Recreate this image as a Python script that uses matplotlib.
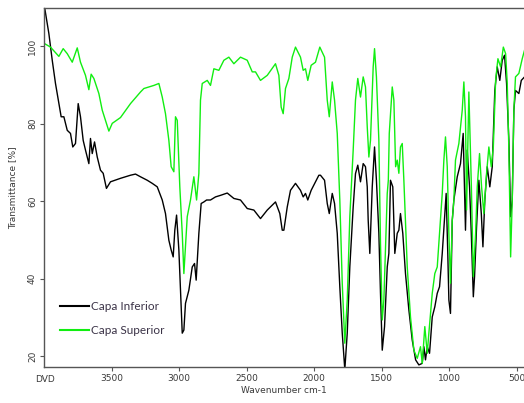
import matplotlib
matplotlib.use("Agg")
import matplotlib.pyplot as plt

# Capa Superior (green) - wavenumber cm-1 / transmittance %
sup_wn = [4000, 3996, 3952, 3890, 3858, 3828, 3791, 3754, 3730, 3693, 3668, 3651, 3631,
          3594, 3569, 3520, 3495, 3434, 3360, 3286, 3261, 3187, 3150, 3125, 3101, 3076,
          3059, 3039, 3027, 3014, 2995, 2977, 2965, 2940, 2916, 2891, 2871, 2854, 2842,
          2829, 2792, 2768, 2743, 2706, 2669, 2632, 2595, 2546, 2496, 2459, 2435, 2398,
          2348, 2287, 2262, 2245, 2230, 2213, 2188, 2163, 2139, 2102, 2082, 2065, 2048,
          2023, 1991, 1959, 1924, 1904, 1889, 1867, 1850, 1830, 1811, 1793, 1774, 1756,
          1737, 1712, 1695, 1678, 1658, 1638, 1621, 1608, 1596, 1584, 1564, 1554, 1540,
          1522, 1510, 1497, 1485, 1460, 1452, 1445, 1423, 1411, 1398, 1386, 1374, 1362,
          1349, 1337, 1312, 1288, 1263, 1238, 1214, 1201, 1182, 1164, 1152, 1127, 1108,
          1090, 1073, 1053, 1041, 1029, 1016, 1004, 992, 979, 967, 955, 930, 905, 893,
          881, 873, 856, 838, 823, 806, 794, 777, 762, 745, 725, 708, 690, 675, 658, 641,
          621, 601, 584, 572, 560, 547, 535, 523, 511, 486, 461, 444]
sup_t = [100.8, 100.7, 99.8, 97.4, 99.4, 98.1, 95.9, 99.6, 95.9, 92.5, 88.8, 92.8, 91.7,
         87.8, 83.5, 78.1, 80.1, 81.6, 85.2, 88.2, 89.1, 89.9, 90.4, 86.9, 82.6, 75.7,
         68.9, 67.6, 81.8, 80.9, 63.7, 51.7, 41.3, 56.0, 60.3, 66.3, 60.3, 67.2, 86.1,
         90.4, 91.2, 89.9, 94.2, 93.8, 96.4, 97.2, 95.5, 97.2, 96.4, 93.4, 93.4, 91.2,
         92.5, 95.5, 92.5, 84.3, 82.6, 89.1, 91.7, 97.2, 99.8, 97.2, 93.8, 94.2, 91.2,
         95.1, 95.9, 99.8, 97.2, 86.1, 81.8, 90.8, 86.1, 77.5, 60.3, 38.8, 23.3, 34.5,
         56.0, 73.2, 86.1, 91.7, 86.9, 92.1, 89.5, 79.2, 71.4, 75.7, 94.7, 99.4, 92.1,
         75.7, 49.1, 29.3, 34.5, 62.0, 65.4, 77.5, 89.5, 86.1, 68.9, 70.6, 67.2, 74.0,
         74.9, 65.4, 43.0, 30.1, 21.5, 19.4, 22.4, 18.1, 27.6, 20.7, 25.9, 36.2, 41.3,
         43.0, 51.7, 62.0, 70.6, 76.6, 68.9, 51.7, 38.8, 55.0, 60.3, 70.6, 74.9, 83.5, 90.8,
         81.8, 57.7, 88.2, 64.6, 40.5, 51.7, 63.7, 72.3, 63.7, 56.8, 67.2, 74.0, 68.9, 74.0,
         91.2, 96.8, 94.7, 99.8, 98.1, 90.4, 73.2, 45.6, 60.3, 83.5, 92.1, 93.0, 96.8, 99.0]

# Capa Inferior (black)
inf_wn = [4000, 3964, 3939, 3915, 3890, 3873, 3853, 3828, 3804, 3787, 3767, 3747, 3730,
          3710, 3693, 3668, 3656, 3643, 3626, 3606, 3582, 3562, 3538, 3508, 3434, 3360,
          3323, 3286, 3236, 3199, 3162, 3125, 3101, 3076, 3059, 3044, 3032, 3019, 3002,
          2990, 2977, 2965, 2953, 2928, 2903, 2886, 2874, 2854, 2837, 2817, 2797, 2768,
          2731, 2694, 2644, 2595, 2546, 2496, 2447, 2398, 2348, 2287, 2255, 2237, 2225,
          2200, 2176, 2139, 2102, 2082, 2065, 2048, 2023, 1991, 1966, 1954, 1924, 1904,
          1889, 1867, 1850, 1830, 1811, 1793, 1774, 1756, 1737, 1712, 1695, 1678, 1658,
          1638, 1621, 1608, 1601, 1589, 1571, 1554, 1540, 1522, 1510, 1497, 1480, 1460,
          1448, 1436, 1419, 1404, 1386, 1374, 1362, 1345, 1325, 1300, 1275, 1250, 1226,
          1201, 1189, 1177, 1164, 1147, 1127, 1108, 1090, 1073, 1053, 1034, 1024, 1012,
          1004, 992, 979, 967, 942, 918, 898, 881, 868, 851, 838, 823, 814, 799, 782, 764,
          752, 738, 720, 701, 683, 664, 646, 627, 609, 592, 577, 560, 547, 535, 523, 511,
          486, 468, 444]
inf_t = [111.0, 103.3, 96.4, 90.4, 85.2, 81.8, 81.8, 78.3, 77.5, 74.0, 74.9, 85.2, 81.8,
         75.7, 73.2, 69.7, 76.2, 72.3, 75.3, 71.4, 68.0, 67.2, 63.3, 65.0, 65.9, 66.7,
         67.0, 66.3, 65.4, 64.6, 63.7, 60.3, 56.8, 49.9, 47.4, 45.6, 52.5, 56.4, 47.4,
         37.0, 25.9, 26.7, 33.6, 37.0, 43.0, 43.9, 39.6, 51.7, 59.4, 59.8, 60.3, 60.3,
         61.1, 61.5, 62.1, 60.7, 60.3, 58.1, 57.7, 55.5, 57.7, 59.8, 56.8, 52.5, 52.5,
         58.5, 62.8, 64.6, 62.8, 61.1, 62.0, 60.3, 62.8, 65.0, 66.7, 66.7, 65.4, 59.4,
         56.8, 62.0, 59.4, 51.7, 37.9, 25.9, 16.5, 25.9, 43.0, 58.5, 67.1, 69.3, 65.0,
         69.7, 68.9, 63.7, 55.1, 46.5, 63.7, 74.0, 65.4, 51.7, 36.2, 21.5, 27.6, 43.0,
         46.5, 65.4, 63.7, 46.5, 51.7, 52.5, 56.8, 51.7, 41.3, 31.9, 24.1, 19.0, 17.7,
         18.1, 22.4, 19.0, 22.4, 20.7, 30.1, 32.7, 36.2, 37.9, 46.5, 56.8, 62.0, 46.5,
         34.5, 31.0, 55.0, 60.3, 66.3, 69.7, 77.5, 52.5, 73.2, 63.7, 51.7, 35.3, 40.5, 53.4, 65.4, 56.8,
         48.2, 60.3, 68.9, 63.7, 68.9, 88.6, 94.7, 91.2, 96.4, 97.7, 90.4, 75.7, 56.0, 60.3, 83.5, 88.6,
         87.8, 91.2, 92.1]

x_ticks = [3500, 3000, 2500, 2000, 1500, 1000, 500]
y_ticks = [20, 40, 60, 80, 100]

txt = '#3a3a3a'
spine = '#555555'

fig = plt.figure(figsize=(5.24, 4.03), dpi=100)
ax = fig.add_axes([44 / 524, 36 / 403, 480 / 524, 359 / 403])

ax.plot(inf_wn, inf_t, color='black', lw=1.0, label='Capa Inferior')
ax.plot(sup_wn, sup_t, color='#11ee11', lw=1.0, label='Capa Superior')

ax.set_xlim(4000, 448)
ax.set_ylim(17.16, 109.9)
ax.set_xticks(x_ticks)
ax.set_yticks(y_ticks)
ax.tick_params(direction='out', length=3, width=0.8, colors=spine, labelcolor=txt,
               labelsize=6.5, pad=2)
for lab in ax.get_yticklabels():
    lab.set_rotation(90)
    lab.set_va('center')
ax.spines['right'].set_visible(False)
for s in ['left', 'top', 'bottom']:
    ax.spines[s].set_color(spine)
    ax.spines[s].set_linewidth(1.0)

ax.set_xlabel('Wavenumber cm-1', fontsize=6.5, color=txt, labelpad=2)
ax.set_ylabel('Transmittance [%]', fontsize=6.5, color=txt, labelpad=8)
fig.text(45 / 524, 1 - 380 / 403, 'DVD', fontsize=6.5, color=txt, ha='center', va='center')

leg = ax.legend(loc='upper left', bbox_to_anchor=(0.033, 0.183), frameon=False,
                borderaxespad=0, borderpad=0, handlelength=2.5, handletextpad=0.1,
                labelspacing=1.1, prop={'family': 'Lato', 'size': 8.5})
for t in leg.get_texts():
    t.set_color('#3b3347')
for h in leg.get_lines():
    h.set_linewidth(1.5)

fig.savefig('out.png', dpi=100)
